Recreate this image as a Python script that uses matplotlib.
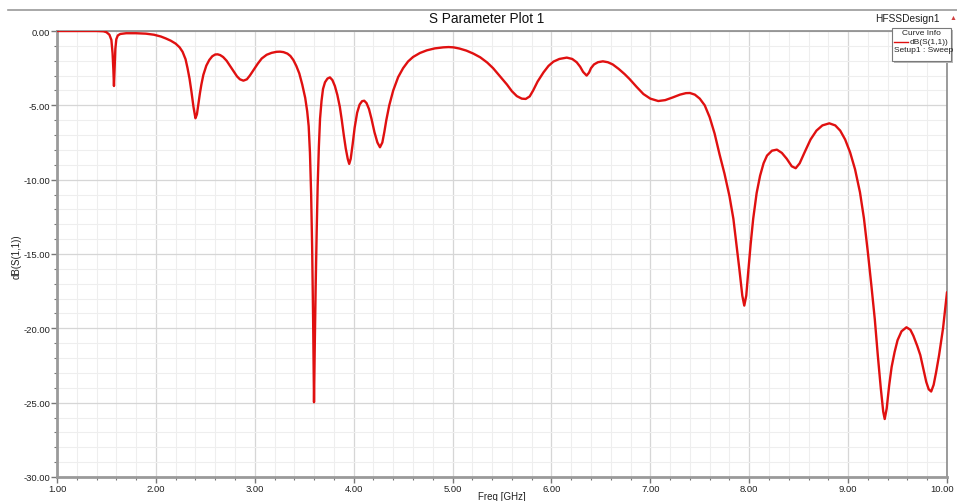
import matplotlib
matplotlib.use("Agg")
import matplotlib.pyplot as plt
from matplotlib.ticker import MultipleLocator, FormatStrFormatter
from matplotlib.lines import Line2D
from matplotlib.patches import Rectangle
from matplotlib.transforms import ScaledTranslation

plt.rcParams['font.family'] = ['Liberation Sans', 'DejaVu Sans']

# Frequency (GHz) and dB(S(1,1)) values
freq = [1.00, 1.20, 1.40, 1.47, 1.50, 1.53, 1.55, 1.562, 1.570, 1.576, 1.582, 1.590, 1.600, 1.615, 1.64,
        1.70, 1.80, 1.90, 1.98, 2.05, 2.10, 2.15, 2.20, 2.24, 2.27, 2.30, 2.32, 2.34, 2.36, 2.38,
        2.40, 2.415, 2.43, 2.445, 2.46, 2.48, 2.51, 2.54, 2.57, 2.60, 2.625, 2.65, 2.68, 2.715, 2.75,
        2.79, 2.82, 2.85, 2.885, 2.92, 2.95, 2.99, 3.03, 3.07, 3.12, 3.17, 3.22, 3.255, 3.29, 3.33,
        3.36, 3.39, 3.42, 3.45, 3.48, 3.51, 3.53, 3.545, 3.558, 3.57, 3.58, 3.59, 3.599, 3.607, 3.616,
        3.626, 3.636, 3.648, 3.66, 3.675, 3.69, 3.71, 3.735, 3.76, 3.785, 3.81, 3.835, 3.86, 3.88, 3.90,
        3.92, 3.94, 3.955, 3.97, 3.99, 4.01, 4.035, 4.06, 4.085, 4.107, 4.13, 4.155, 4.18, 4.21, 4.24,
        4.266, 4.29, 4.31, 4.33, 4.36, 4.40, 4.45, 4.50, 4.55, 4.60, 4.67, 4.74, 4.82, 4.906, 4.96,
        5.01, 5.07, 5.14, 5.21, 5.28, 5.35, 5.41, 5.48, 5.55, 5.60, 5.65, 5.70, 5.74, 5.78, 5.815,
        5.86, 5.92, 5.97, 6.02, 6.08, 6.155, 6.21, 6.255, 6.29, 6.32, 6.356, 6.38, 6.40, 6.43, 6.47,
        6.52, 6.57, 6.62, 6.68, 6.74, 6.79, 6.86, 6.93, 7.00, 7.08, 7.15, 7.23, 7.30, 7.36, 7.40,
        7.45, 7.50, 7.55, 7.60, 7.65, 7.70, 7.75, 7.80, 7.84, 7.87, 7.90, 7.93, 7.95, 7.97, 7.99,
        8.015, 8.04, 8.075, 8.11, 8.145, 8.18, 8.23, 8.28, 8.33, 8.38, 8.43, 8.47, 8.51, 8.56, 8.62,
        8.68, 8.74, 8.81, 8.87, 8.92, 8.97, 9.02, 9.07, 9.12, 9.16, 9.20, 9.235, 9.27, 9.30, 9.33,
        9.355, 9.37, 9.39, 9.415, 9.44, 9.47, 9.50, 9.54, 9.59, 9.63, 9.66, 9.70, 9.73, 9.76, 9.79,
        9.815, 9.84, 9.865, 9.89, 9.92, 9.96, 10.00]
s11_db = [0.00, 0.00, 0.00, -0.02, -0.08, -0.25, -0.6, -1.5, -2.6, -3.7, -2.6, -1.2, -0.55, -0.3, -0.2,
          -0.15, -0.15, -0.18, -0.25, -0.37, -0.5, -0.65, -0.85, -1.1, -1.4, -1.9, -2.5, -3.2, -4.1, -5.1,
          -5.87, -5.6, -4.9, -4.2, -3.6, -2.95, -2.33, -1.95, -1.7, -1.58, -1.57, -1.62, -1.75, -2.0, -2.35,
          -2.75, -3.05, -3.25, -3.34, -3.25, -3.0, -2.6, -2.2, -1.85, -1.6, -1.47, -1.40, -1.39, -1.42, -1.52,
          -1.68, -1.95, -2.35, -2.85, -3.6, -4.5, -5.4, -6.4, -8.2, -11.0, -14.5, -19.4, -24.97, -21.0, -17.1,
          -13.5, -10.4, -7.8, -5.9, -4.7, -3.9, -3.45, -3.2, -3.12, -3.3, -3.7, -4.3, -5.1, -6.0, -7.0,
          -7.9, -8.6, -8.94, -8.6, -7.6, -6.5, -5.5, -4.95, -4.72, -4.69, -4.85, -5.25, -5.9, -6.8, -7.5,
          -7.82, -7.5, -6.8, -6.0, -5.0, -4.0, -3.1, -2.5, -2.05, -1.75, -1.48, -1.30, -1.17, -1.1, -1.08,
          -1.1, -1.18, -1.32, -1.52, -1.77, -2.12, -2.5, -3.05, -3.6, -4.05, -4.38, -4.55, -4.57, -4.4, -4.0,
          -3.4, -2.78, -2.35, -2.06, -1.88, -1.79, -1.88, -2.1, -2.4, -2.75, -3.0, -2.8, -2.5, -2.25, -2.1,
          -2.04, -2.1, -2.25, -2.55, -2.9, -3.23, -3.75, -4.24, -4.55, -4.71, -4.65, -4.46, -4.28, -4.18, -4.17,
          -4.28, -4.55, -5.0, -5.8, -6.9, -8.3, -9.6, -11.1, -12.64, -14.3, -16.0, -17.8, -18.47, -17.8, -16.2,
          -14.3, -12.64, -10.9, -9.73, -8.9, -8.38, -8.05, -7.98, -8.2, -8.6, -9.1, -9.23, -8.9, -8.16, -7.3,
          -6.7, -6.35, -6.21, -6.35, -6.7, -7.3, -8.16, -9.3, -10.85, -12.6, -14.9, -17.1, -19.4, -21.8, -24.0,
          -25.6, -26.1, -25.4, -23.85, -22.6, -21.6, -20.8, -20.2, -19.93, -20.1, -20.5, -21.2, -21.8, -22.7, -23.6,
          -24.1, -24.25, -23.8, -22.95, -21.8, -20.0, -17.57]

W, H = 957, 502
fig = plt.figure(figsize=(W / 100, H / 100), dpi=100)
fig.patch.set_facecolor('white')
ax = fig.add_axes([57 / W, 24 / H, 890 / W, 446 / H])

ax.plot(freq, s11_db, color='#e01010', lw=1.7, solid_joinstyle='round', solid_capstyle='round', zorder=3)

ax.set_xlim(1.0, 10.0)
ax.set_ylim(-30.0, 0.0)
ax.xaxis.set_major_locator(MultipleLocator(1.0))
ax.xaxis.set_minor_locator(MultipleLocator(0.2))
ax.yaxis.set_major_locator(MultipleLocator(5.0))
ax.yaxis.set_minor_locator(MultipleLocator(1.0))
ax.xaxis.set_major_formatter(FormatStrFormatter('%.2f'))
ax.yaxis.set_major_formatter(FormatStrFormatter('%.2f'))

ax.grid(which='major', color='#d6d6d6', lw=0.9)
ax.grid(which='minor', color='#eeeeee', lw=0.8)
ax.set_axisbelow(True)

ax.tick_params(which='major', direction='out', length=4, width=1.0, color='#777777',
               labelsize=6.8, labelcolor='#222222', pad=1)
ax.tick_params(which='minor', direction='out', length=2.5, width=0.8, color='#777777')

for side in ['left', 'bottom']:
    ax.spines[side].set_color('#9a9a9a')
    ax.spines[side].set_linewidth(2.0)
for side in ['top', 'right']:
    ax.spines[side].set_color('#8a8a8a')
    ax.spines[side].set_linewidth(1.2)

fig.canvas.draw()
for t in ax.get_xticklabels():
    if t.get_text() == '10.00':
        t.set_transform(t.get_transform() + ScaledTranslation(-5 / 100, 0, fig.dpi_scale_trans))

ax.set_xlabel('Freq [GHz]', fontsize=7, labelpad=-1.5, color='#222222')
fig.text(17 / W, 1 - 257 / H, 'dB(S(1,1))', fontsize=7, rotation=90, ha='center', va='center', color='#222222')

# header separator line and title
fig.add_artist(Line2D([8 / W, 1.0], [1 - 11 / H, 1 - 11 / H], color='#9a9a9a', lw=1.2))
fig.text(487 / W, 1 - 19 / H, 'S Parameter Plot 1', fontsize=9.8, ha='center', va='center', color='#111111')
fig.text(940 / W, 1 - 19 / H, 'HFSSDesign1', fontsize=7.3, ha='right', va='center', color='#222222')
fig.text(953 / W, 1 - 18 / H, '\u25B2', fontsize=5, ha='center', va='center', color='#d04040')

# Curve Info box
bx0, by0, bw, bh = 892 / W, 1 - 62 / H, 59 / W, 33 / H
fig.add_artist(Rectangle((bx0 + 2 / W, by0 - 2 / H), bw, bh, transform=fig.transFigure,
                         facecolor='#b8b8b8', edgecolor='none', zorder=5))
fig.add_artist(Rectangle((bx0, by0), bw, bh, transform=fig.transFigure,
                         facecolor='white', edgecolor='#7a7a7a', lw=0.8, zorder=6))
fig.text(bx0 + bw / 2, 1 - 33.5 / H, 'Curve Info', fontsize=6.0, ha='center', va='center', color='#222222', zorder=7)
fig.add_artist(Line2D([bx0 + 2 / W, bx0 + 16 / W], [1 - 43.3 / H, 1 - 43.3 / H], color='#e01010', lw=1.0, zorder=7))
fig.text(bx0 + bw - 3 / W, 1 - 42.5 / H, 'dB(S(1,1))', fontsize=6.0, ha='right', va='center', color='#222222', zorder=7)
fig.text(bx0 + 1.5 / W, 1 - 50 / H, 'Setup1 : Sweep', fontsize=6.0, ha='left', va='center', color='#222222', zorder=7)

fig.savefig('out.png', dpi=100, facecolor='white')
